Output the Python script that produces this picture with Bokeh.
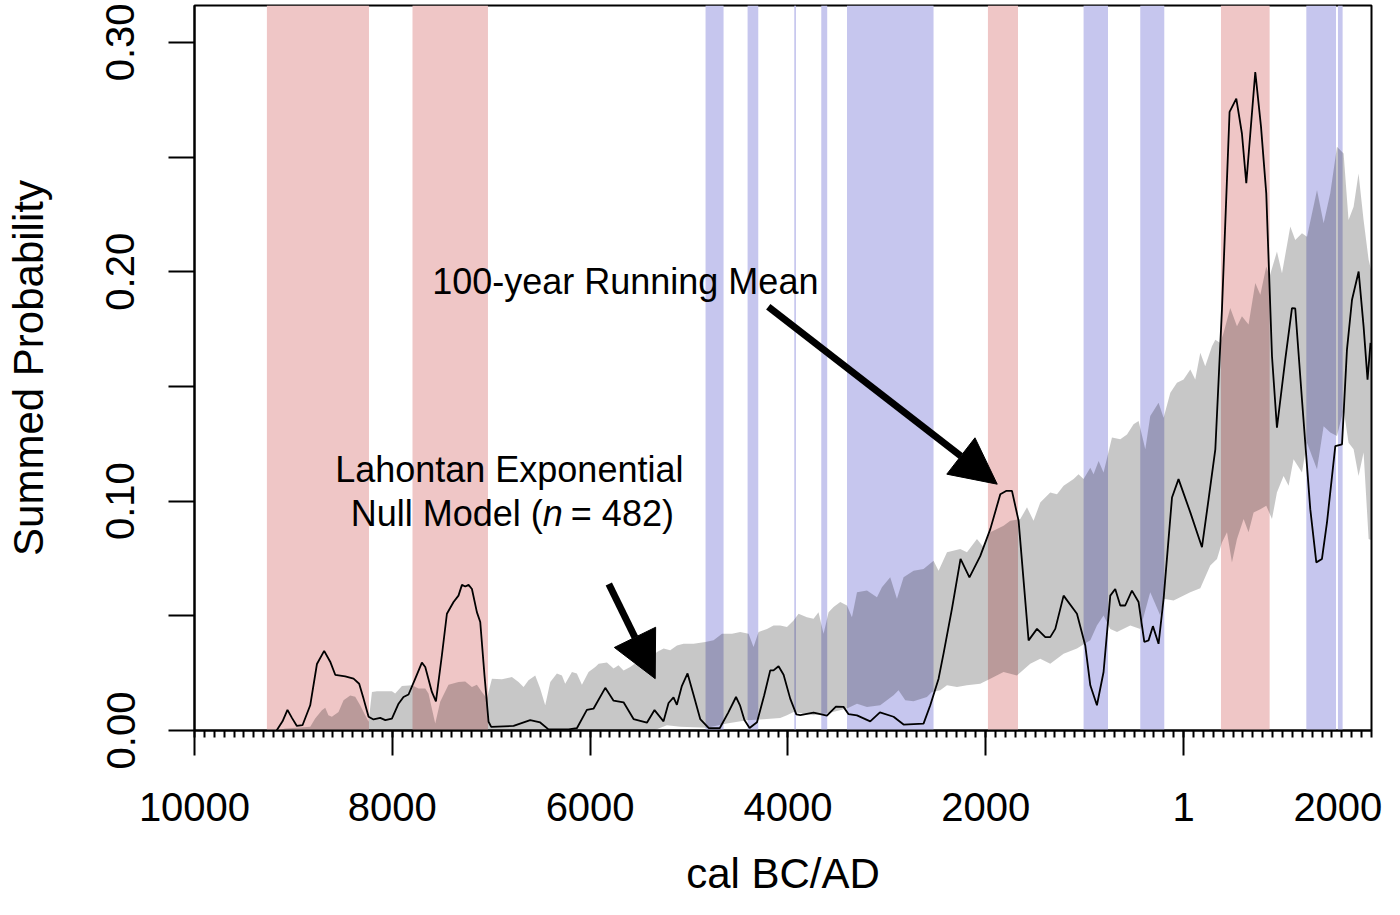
from bokeh.plotting import figure
from bokeh.models import Range1d, FixedTicker, PrintfTickFormatter, Label, Arrow, NormalHead, LinearAxis
from bokeh.embed import file_html
from bokeh.resources import INLINE

# ---------------- data ----------------
spd_year = [-9170, -9110, -9060, -9015, -8965, -8908, -8830, -8762, -8689, -8628, -8577, -8476,
            -8392, -8335, -8291, -8240, -8190, -8122, -8071, -8004, -7937, -7887, -7836, -7768,
            -7701, -7667, -7600, -7559, -7499, -7448, -7381, -7331, -7296, -7262, -7229, -7195,
            -7145, -7111, -7068, -7027, -7000, -6774, -6606, -6505, -6421, -6218, -6134, -6033,
            -5966, -5847, -5763, -5662, -5561, -5426, -5349, -5258, -5207, -5157, -5123, -5072,
            -5015, -4954, -4887, -4800, -4690, -4605, -4525, -4485, -4440, -4388, -4313, -4240,
            -4179, -4146, -4095, -4044, -3977, -3915, -3876, -3741, -3606, -3515, -3438, -3387,
            -3302, -3168, -3070, -2932, -2831, -2629, -2561, -2477, -2427, -2342, -2255, -2165,
            -2056, -1954, -1853, -1790, -1735, -1668, -1567, -1482, -1398, -1348, -1297, -1213,
            -1078, -994, -943, -876, -809, -741, -691, -640, -590, -522, -455, -397, -354, -310,
            -253, -202, -117, -51, 68, 186, 253, 321, 388, 465, 533, 590, 634, 725, 783, 836,
            894, 944, 1028, 1096, 1129, 1197, 1281, 1342, 1399, 1450, 1534, 1602, 1652, 1703,
            1770, 1820, 1860, 1890]
spd_prob = [0.000, 0.004, 0.009, 0.0055, 0.002, 0.0023, 0.011, 0.029, 0.0347, 0.030, 0.0243, 0.0236,
            0.0226, 0.0204, 0.0139, 0.006, 0.0048, 0.0055, 0.0045, 0.0052, 0.0117, 0.0146, 0.0157, 0.0226,
            0.0296, 0.0277, 0.0168, 0.0127, 0.0327, 0.0509, 0.056, 0.0588, 0.0635, 0.0628, 0.0635, 0.0617,
            0.0516, 0.0473, 0.024, 0.0038, 0.0016, 0.002, 0.0045, 0.0035, 0.0005, 0.0005, 0.001, 0.009,
            0.0095, 0.0186, 0.013, 0.0123, 0.005, 0.0034, 0.0089, 0.004, 0.012, 0.0144, 0.0112, 0.0195,
            0.0249, 0.0155, 0.005, 0.001, 0.001, 0.0077, 0.0146, 0.011, 0.0046, 0.0011, 0.0036, 0.0154,
            0.0262, 0.0262, 0.028, 0.0243, 0.0139, 0.007, 0.0067, 0.0078, 0.0065, 0.0104, 0.0103, 0.0071,
            0.0066, 0.004, 0.0079, 0.006, 0.0026, 0.003, 0.011, 0.0226, 0.0335, 0.053, 0.0748, 0.0668,
            0.076, 0.0878, 0.103, 0.1045, 0.1045, 0.0914, 0.0393, 0.0443, 0.0407, 0.0407, 0.0443, 0.0588,
            0.0509, 0.0371, 0.0197, 0.011, 0.0255, 0.0588, 0.0617, 0.0545, 0.0545, 0.061, 0.056, 0.0386, 0.0393, 0.0455,
            0.0378, 0.0574, 0.1016, 0.1096, 0.0951, 0.0799, 0.1009, 0.1226, 0.1835, 0.2697, 0.2755, 0.2603, 0.2386, 0.2871, 0.2632, 0.2342,
            0.1632, 0.132, 0.1617, 0.1842, 0.184, 0.1443, 0.0965, 0.0733, 0.0748, 0.0907, 0.124, 0.1248, 0.1661, 0.1878,
            0.2001, 0.1762, 0.153, 0.169]

env_hi_year = [-9167, -9083, -8830, -8780, -8712, -8678, -8646, -8611, -8544, -8493, -8426, -8375, -8325,
               -8274, -8240, -8206, -8156, -8004, -7971, -7903, -7802, -7735, -7667, -7634, -7566, -7516,
               -7432, -7331, -7263, -7195, -7145, -7094, -7044, -6993, -6892, -6791, -6724, -6673, -6623,
               -6555, -6505, -6454, -6403, -6336, -6285, -6252, -6184, -6134, -6083, -6016, -5948, -5914,
               -5830, -5763, -5713, -5662, -5595, -5524, -5459, -5392, -5324, -5257, -5190, -5122, -5056,
               -4954, -4836, -4752, -4667, -4566, -4482, -4398, -4348, -4297, -4212, -4146, -4078, -4010,
               -3943, -3893, -3808, -3741, -3691, -3640, -3589, -3539, -3471, -3403, -3353, -3302, -3201,
               -3100, -3050, -2966, -2898, -2831, -2730, -2629, -2528, -2477, -2392, -2258, -2190, -2089,
               -2022, -1954, -1887, -1820, -1752, -1651, -1583, -1517, -1449, -1348, -1280, -1213, -1112,
               -1062, -1011, -943, -910, -859, -809, -724, -640, -572, -506, -455, -387, -337, -253, -202,
               -134, -67, 0, 68, 118, 169, 219, 287, 321, 371, 404, 472, 540, 590, 657, 725, 776, 836, 870,
               944, 995, 1079, 1129, 1197, 1248, 1349, 1416, 1483, 1551, 1618, 1668, 1719, 1769, 1820,
               1871, 1900]
env_hi = [0.0, 0.0009, 0.0016, 0.0052, 0.0088, 0.0099, 0.0067, 0.006, 0.0081, 0.0132, 0.0153, 0.0147, 0.011,
          0.0067, 0.0038, 0.0168, 0.0171, 0.0171, 0.0161, 0.0194, 0.0197, 0.0183, 0.0183, 0.0161, 0.003, 0.0125,
          0.02, 0.0212, 0.0214, 0.019, 0.02, 0.0168, 0.0139, 0.0226, 0.0223, 0.0233, 0.0212, 0.019, 0.0219,
          0.024, 0.0183, 0.011, 0.0212, 0.0248, 0.024, 0.0204, 0.0255, 0.0248, 0.02, 0.0255, 0.0277, 0.0291,
          0.0296, 0.027, 0.0284, 0.0262, 0.0277, 0.0299, 0.0277, 0.0313, 0.0342, 0.0357, 0.035, 0.0371, 0.0378,
          0.0378, 0.0386, 0.0393, 0.0422, 0.0422, 0.0429, 0.0422, 0.0364, 0.0429, 0.0443, 0.0458, 0.0458, 0.0451,
          0.048, 0.0509, 0.0494, 0.0487, 0.0516, 0.0422, 0.0516, 0.0538, 0.056, 0.0545, 0.0494, 0.0603, 0.061,
          0.0581, 0.0625, 0.0668, 0.0574, 0.0668, 0.0697, 0.0704, 0.074, 0.0697, 0.0777, 0.0791, 0.0777, 0.0835,
          0.0799, 0.0864, 0.0878, 0.0893, 0.0914, 0.0922, 0.0973, 0.0914, 0.0994, 0.1038, 0.103, 0.1067, 0.1096,
          0.1117, 0.1096, 0.1146, 0.1117, 0.1175, 0.1125, 0.1277, 0.127, 0.1291, 0.1335, 0.1349, 0.1226, 0.1371, 0.1429, 0.1364,
          0.1473, 0.1516, 0.153, 0.1574, 0.153, 0.1647, 0.1588, 0.1675, 0.1704, 0.169, 0.1733, 0.1842, 0.1762, 0.1806, 0.177, 0.1951, 0.19, 0.2023, 0.198,
          0.2088, 0.1994, 0.2197, 0.2139, 0.2168, 0.2153, 0.2357, 0.2212, 0.2342, 0.2545, 0.2516, 0.2226, 0.2284, 0.2429, 0.2226,
          0.2052, 0.20]

env_lo_year = [-9167, -5359, -5224, -5089, -4819, -4617, -4415, -4247, -4078, -4010, -3943, -3741, -3606,
               -3403, -3302, -3201, -3067, -2932, -2882, -2814, -2730, -2595, -2544, -2460, -2392, -2291,
               -2190, -2056, -1954, -1820, -1685, -1550, -1449, -1348, -1213, -1078, -943, -876, -809, -741,
               -673, -539, -438, -337, -236, -202, -101, 68, 169, 270, 338, 388, 439, 489, 540, 607, 657,
               708, 776, 836, 894, 944, 1011, 1062, 1112, 1197, 1248, 1298, 1349, 1416, 1483, 1551, 1618,
               1668, 1719, 1769, 1820, 1871, 1900]
env_lo = [0.0, 0.0, 0.0023, 0.0016, 0.0012, 0.003, 0.0045, 0.0049, 0.0055, 0.0067, 0.0081, 0.0067, 0.0074,
          0.0096, 0.0117, 0.0103, 0.011, 0.0154, 0.0175, 0.0132, 0.0128, 0.0146, 0.0168, 0.0175, 0.0197, 0.019,
          0.0197, 0.0204, 0.0226, 0.0255, 0.024, 0.0291, 0.0313, 0.0291, 0.0335, 0.0357, 0.0393, 0.0458, 0.0501, 0.0443,
          0.0429, 0.0458, 0.0443, 0.0603, 0.0501, 0.0574, 0.0567, 0.0603, 0.062, 0.0719, 0.0748, 0.082, 0.0864, 0.0733, 0.0835, 0.0922, 0.0864,
          0.0951, 0.0965, 0.098, 0.0922, 0.1038, 0.111, 0.1067, 0.1183, 0.1125, 0.1255, 0.1197, 0.1139, 0.1327, 0.1299, 0.1284, 0.14,
          0.1255, 0.1226, 0.111, 0.1212, 0.0835, 0.083]

# periods above (positive) and below (negative) the null envelope
pos_start = [-9268, -7796, -1978, 378]
pos_end = [-8236, -7033, -1674, 870]
neg_start = [-4833, -4408, -3936, -3663, -3403, -1011, -438, 1241, 1561]
neg_end = [-4651, -4300, -3919, -3603, -2528, -764, -195, 1541, 1608]

x_major_ticks = [-10000, -8000, -6000, -4000, -2000, 0]
x_tick_labels = ["10000", "8000", "6000", "4000", "2000", "1"]
x_last_label = "2000"
y_major_ticks = [0.0, 0.1, 0.2, 0.3]
y_minor_ticks = [0.05, 0.15, 0.25]

# ---------------- figure ----------------
X0, X1 = -10000, 1900
Y0, Y1 = 0.0, 0.3161
X_LAST_LABEL_POS = 1560
FONT = "Liberation Sans"

p = figure(width=1384, height=899, x_range=Range1d(X0, X1), y_range=Range1d(Y0, Y1),
           output_backend="svg", toolbar_location=None,
           min_border_left=194, min_border_right=13, min_border_top=5, min_border_bottom=167)
p.grid.visible = False
p.outline_line_color = "black"
p.outline_line_width = 2
p.background_fill_color = "white"
p.border_fill_color = "white"

p.quad(left=pos_start, right=pos_end, bottom=Y0, top=Y1, fill_color="#EFC6C6", line_color=None)
p.quad(left=neg_start, right=neg_end, bottom=Y0, top=Y1, fill_color="#C6C6EE", line_color=None)
p.patch(env_hi_year + env_lo_year[::-1], env_hi + env_lo[::-1],
        fill_color="black", fill_alpha=0.22, line_color=None)
p.line(spd_year, spd_prob, line_color="black", line_width=1.8)

# x axis, part 1: axis line and tick marks (labels not drawn)
xa = p.xaxis[0]
xa.ticker = FixedTicker(ticks=x_major_ticks, minor_ticks=list(range(-10000, 1901, 100)))
xa.axis_line_width = 2
xa.major_tick_line_width = 2
xa.minor_tick_line_width = 2
xa.major_tick_out = 25
xa.major_tick_in = 0
xa.minor_tick_out = 7
xa.minor_tick_in = 0
xa.major_label_standoff = 0
xa.major_label_text_font_size = "1px"
xa.major_label_text_color = None

# x axis, part 2: tick labels and title
lab_ticks = x_major_ticks + [X_LAST_LABEL_POS]
xb = LinearAxis(ticker=FixedTicker(ticks=lab_ticks, minor_ticks=[]),
                major_label_overrides=dict(zip(lab_ticks, x_tick_labels + [x_last_label])))
xb.axis_line_color = None
xb.major_tick_line_color = None
xb.minor_tick_line_color = None
xb.major_tick_out = 0
xb.major_tick_in = 0
xb.major_label_standoff = 37
xb.axis_label = "cal BC/AD"
xb.axis_label_standoff = 26
xb.major_label_text_font = FONT
xb.major_label_text_font_size = "40px"
xb.major_label_text_color = "black"
xb.axis_label_text_font = FONT
xb.axis_label_text_font_size = "42px"
xb.axis_label_text_font_style = "normal"
xb.axis_label_text_color = "black"
p.add_layout(xb, "below")

# y axis
ya = p.yaxis[0]
ya.ticker = FixedTicker(ticks=y_major_ticks, minor_ticks=y_minor_ticks)
ya.formatter = PrintfTickFormatter(format="%.2f")
ya.axis_label = "Summed Probability"
ya.axis_line_width = 2
ya.major_tick_line_width = 2
ya.minor_tick_line_width = 2
ya.major_tick_out = 26
ya.major_tick_in = 0
ya.minor_tick_out = 26
ya.minor_tick_in = 0
ya.major_label_orientation = "vertical"
ya.major_label_standoff = 34
ya.axis_label_standoff = 52
ya.major_label_text_font = FONT
ya.major_label_text_font_size = "40px"
ya.major_label_text_color = "black"
ya.axis_label_text_font = FONT
ya.axis_label_text_font_size = "42px"
ya.axis_label_text_font_style = "normal"
ya.axis_label_text_color = "black"

# annotations
ann = dict(text_font=FONT, text_font_size="36px", text_color="black",
           text_baseline="alphabetic", text_align="left")
p.add_layout(Label(x=-7597, y=0.1957, text="100-year Running Mean", **ann))
p.add_layout(Label(x=-8578, y=0.1136, text="Lahontan Exponential", **ann))
p.add_layout(Label(x=-8420, y=0.0945, text="Null Model (", **ann))
p.add_layout(Label(x=-6478, y=0.0945, text="n", text_font_style="italic", **ann))
p.add_layout(Label(x=-6195, y=0.0945, text="= 482)", **ann))

p.add_layout(Arrow(end=NormalHead(size=46, fill_color="black", line_color="black", line_width=1),
                   x_start=-4199, y_start=0.1848, x_end=-1884, y_end=0.1074,
                   line_width=7, line_color="black"))
p.add_layout(Arrow(end=NormalHead(size=46, fill_color="black", line_color="black", line_width=1),
                   x_start=-5811, y_start=0.0639, x_end=-5342, y_end=0.0226,
                   line_width=7, line_color="black"))

open("out.html", "w").write(file_html(p, INLINE))
